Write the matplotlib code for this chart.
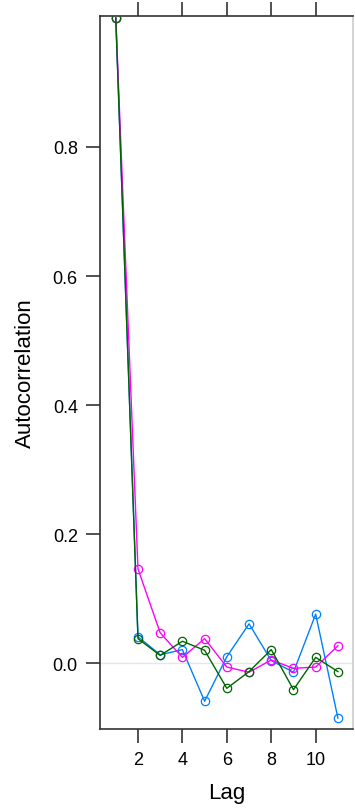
import numpy as np
import matplotlib.pyplot as plt

plt.rcParams['font.family'] = ['Liberation Sans', 'DejaVu Sans']

lags = [1, 2, 3, 4, 5, 6, 7, 8, 9, 10, 11]
chain1 = [1.0, 0.041, 0.013, 0.021, -0.059, 0.010, 0.061, 0.004, -0.014, 0.076, -0.085]
chain2 = [1.0, 0.146, 0.047, 0.009, 0.038, -0.006, -0.014, 0.005, -0.008, -0.006, 0.027]
chain3 = [1.0, 0.038, 0.012, 0.034, 0.020, -0.039, -0.013, 0.021, -0.041, 0.009, -0.013]
colors = ['#0080ff', '#ff00ff', '#006400']

W, H = 355, 812
fig = plt.figure(figsize=(W / 100, H / 100), dpi=100)
l, r, t, b = 100, 353, 17, 730
ax = fig.add_axes([l / W, 1 - b / H, (r - l) / W, (b - t) / H])

ax.axhline(0, color='#e6e6e6', lw=1, zorder=1)
for y, c in zip([chain1, chain2, chain3], colors):
    ax.plot(lags, y, color=c, lw=1, marker='o', ms=6, mfc='none', mew=0.9, zorder=3)

ax.set_xlim(0.29, 11.68)
ax.set_ylim(-0.102, 1.003)
ax.set_xticks([2, 4, 6, 8, 10])
ax.set_yticks([0.0, 0.2, 0.4, 0.6, 0.8])
ax.set_yticklabels(['0.0', '0.2', '0.4', '0.6', '0.8'])
ax.tick_params(direction='out', length=10, width=1.2, color='#333333', labelsize=13,
               pad=6, top=True, labeltop=False)
for s in ax.spines.values():
    s.set_color('#333333')
    s.set_linewidth(1.2)
ax.spines['right'].set_color('#cccccc')
ax.set_xlabel('Lag', fontsize=16, labelpad=10)
ax.set_ylabel('Autocorrelation', fontsize=16, labelpad=12)

fig.savefig('out.png', dpi=100)
